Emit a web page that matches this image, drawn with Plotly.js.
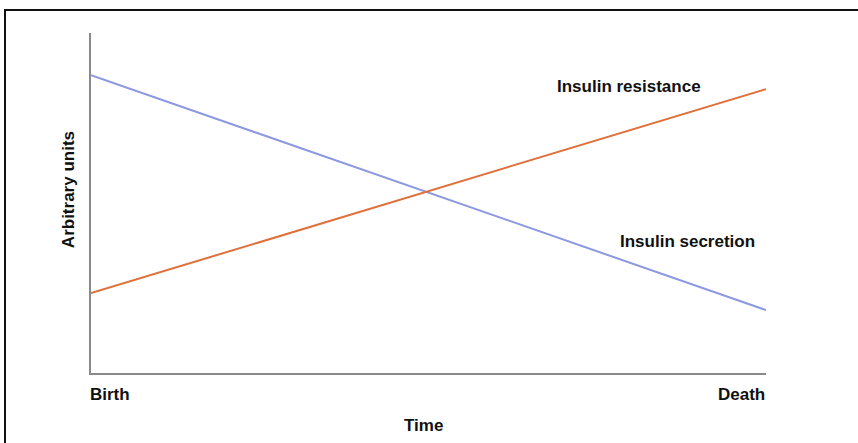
<!DOCTYPE html>
<html>
<head>
<meta charset="utf-8">
<script src="https://cdn.plot.ly/plotly-3.0.1.min.js"></script>
<style>
html,body{margin:0;padding:0;background:#fff;}
#wrap{position:relative;width:858px;height:443px;overflow:hidden;}
#frame{position:absolute;left:4px;top:9px;width:900px;height:500px;border-top:2px solid #111;border-left:2px solid #111;pointer-events:none;}
#chart{position:absolute;left:0;top:0;width:858px;height:443px;}
</style>
</head>
<body>
<div id="wrap"><div id="chart"></div><div id="frame"></div></div>
<script>
const timePoints = [0, 1];
const endLabels = ["Birth", "Death"];
const secretion = [87.6, 18.5];
const resistance = [23.5, 83.5];
const seriesNames = ["Insulin secretion", "Insulin resistance"];
const labelPos = {x: [0.883, 0.797], y: [38.8, 84.3]};
const xTitle = "Time";
const yTitle = "Arbitrary units";

const font = {family: "Arial, 'Liberation Sans', sans-serif", size: 17, color: "#111"};

const traces = [
  {x: timePoints, y: secretion, mode: "lines", name: seriesNames[0],
   line: {color: "#8c98e0", width: 2}, cliponaxis: false, hoverinfo: "skip"},
  {x: timePoints, y: resistance, mode: "lines", name: seriesNames[1],
   line: {color: "#e0703a", width: 2}, cliponaxis: false, hoverinfo: "skip"}
];

const annotations = [
  {x: timePoints[0], y: 0, xref: "x", yref: "y", text: "<b>" + endLabels[0] + "</b>", showarrow: false,
   xanchor: "left", yanchor: "middle", yshift: -21, xshift: -3, font: font},
  {x: timePoints[1], y: 0, xref: "x", yref: "y", text: "<b>" + endLabels[1] + "</b>", showarrow: false,
   xanchor: "right", yanchor: "middle", yshift: -21, xshift: 1, font: font},
  {x: labelPos.x[0], y: labelPos.y[0], xref: "x", yref: "y", text: "<b>" + seriesNames[0] + "</b>",
   showarrow: false, xanchor: "center", yanchor: "middle", font: font},
  {x: labelPos.x[1], y: labelPos.y[1], xref: "x", yref: "y", text: "<b>" + seriesNames[1] + "</b>",
   showarrow: false, xanchor: "center", yanchor: "middle", font: font},
  {x: 0.493, y: -0.153, xref: "paper", yref: "paper", text: "<b>" + xTitle + "</b>", showarrow: false,
   xanchor: "center", yanchor: "middle", font: font},
  {x: -0.034, y: 0.538, xref: "paper", yref: "paper", text: "<b>" + yTitle + "</b>", showarrow: false,
   xanchor: "center", yanchor: "middle", textangle: -90, font: font}
];

const layout = {
  width: 858, height: 443,
  margin: {l: 91, r: 92, t: 33, b: 70, pad: 0},
  paper_bgcolor: "#fff", plot_bgcolor: "#fff",
  showlegend: false,
  font: font,
  xaxis: {range: [0, 1], showgrid: false, zeroline: false, showticklabels: false, ticks: "",
          showline: true, linecolor: "#8a8a8a", linewidth: 2},
  yaxis: {range: [0, 100], showgrid: false, zeroline: false, showticklabels: false, ticks: "",
          showline: true, linecolor: "#8a8a8a", linewidth: 2},
  annotations: annotations
};

Plotly.newPlot("chart", traces, layout, {displayModeBar: false, staticPlot: true});
</script>
</body>
</html>
